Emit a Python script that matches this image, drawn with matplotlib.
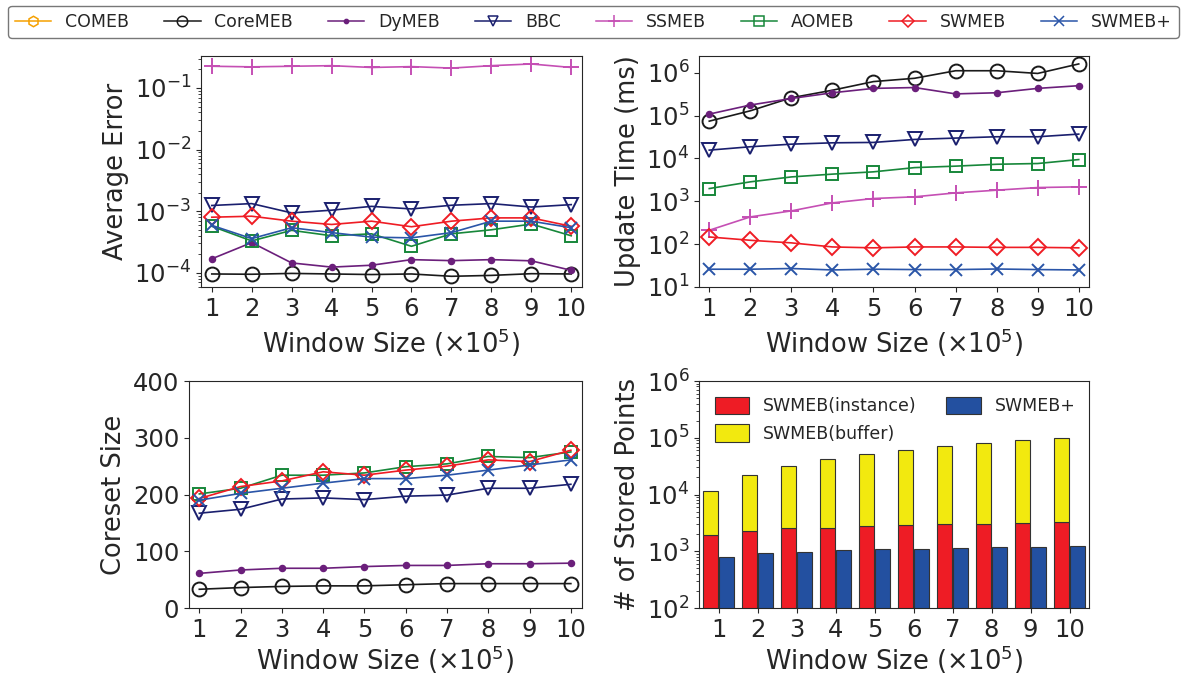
import numpy as np
import matplotlib
matplotlib.use('Agg')
import matplotlib.pyplot as plt
from matplotlib.ticker import NullLocator

#Window sizes (x10^5)
win = [1, 2, 3, 4, 5, 6, 7, 8, 9, 10]

#Average error
err_core = [9.6e-5, 9.5e-5, 9.8e-5, 9.6e-5, 9.4e-5, 9.6e-5, 8.8e-5, 9.1e-5, 9.7e-5, 9.6e-5]
err_dy = [1.69e-4, 3.1e-4, 1.45e-4, 1.24e-4, 1.33e-4, 1.64e-4, 1.58e-4, 1.64e-4, 1.57e-4, 1.1e-4]
err_bbc = [1.24e-3, 1.33e-3, 0.94e-3, 1.04e-3, 1.2e-3, 1.09e-3, 1.25e-3, 1.33e-3, 1.17e-3, 1.28e-3]
err_ss = [0.225, 0.22, 0.225, 0.23, 0.215, 0.222, 0.21, 0.23, 0.245, 0.215]
err_ao = [5.7e-4, 3.3e-4, 4.9e-4, 4.0e-4, 4.3e-4, 2.7e-4, 4.3e-4, 5.0e-4, 6.2e-4, 4.0e-4]
err_sw = [8.0e-4, 8.3e-4, 6.9e-4, 6.1e-4, 6.9e-4, 5.6e-4, 6.9e-4, 7.8e-4, 7.8e-4, 5.7e-4]
err_swp = [5.9e-4, 3.6e-4, 5.4e-4, 4.5e-4, 3.8e-4, 3.7e-4, 4.5e-4, 6.9e-4, 6.9e-4, 5.4e-4]

#Update time (ms)
t_core = [7.4e4, 1.29e5, 2.6e5, 3.9e5, 6.2e5, 7.4e5, 1.11e6, 1.11e6, 9.6e5, 1.6e6]
t_dy = [1.08e5, 1.76e5, 2.5e5, 3.4e5, 4.3e5, 4.5e5, 3.2e5, 3.4e5, 4.3e5, 4.97e5]
t_bbc = [1.56e4, 1.87e4, 2.15e4, 2.31e4, 2.36e4, 2.77e4, 2.98e4, 3.2e4, 3.2e4, 3.69e4]
t_ss = [211, 432, 597, 918, 1160, 1270, 1570, 1815, 2090, 2170]
t_ao = [1980, 2840, 3700, 4300, 4860, 6100, 6600, 7300, 7600, 9400]
t_sw = [147, 123, 107, 86, 82, 86, 86, 84, 84, 82]
t_swp = [26, 26, 27, 25, 26, 25.5, 25.5, 26.3, 25.5, 25]

#Coreset size
cs_core = [33, 36, 38, 39, 39, 41, 43, 43, 43, 43]
cs_dy = [61, 67, 70, 70, 73, 75, 75, 78, 78, 79]
cs_bbc = [167, 174, 192, 194, 191, 197, 199, 211, 211, 218]
cs_ao = [201, 211, 234, 234, 238, 249, 254, 267, 265, 275]
cs_sw = [193, 214, 224, 240, 234, 243, 250, 261, 258, 278]
cs_swp = [190, 202, 211, 220, 228, 228, 234, 243, 252, 261]

#Stored points
st_inst = [1950, 2300, 2520, 2560, 2740, 2930, 3050, 3010, 3130, 3220]
st_buf = [9800, 19600, 29400, 39200, 49300, 59100, 67900, 79200, 87300, 97500]
st_plus = [789, 929, 967, 1050, 1092, 1092, 1137, 1168, 1183, 1250]

names = ['COMEB', 'CoreMEB', 'DyMEB', 'BBC', 'SSMEB', 'AOMEB', 'SWMEB', 'SWMEB+']

plt.rcParams['font.family'] = 'DejaVu Sans'
plt.rcParams['text.color'] = '#262626'
plt.rcParams['axes.labelcolor'] = '#262626'
plt.rcParams['xtick.color'] = '#262626'
plt.rcParams['ytick.color'] = '#262626'
plt.rcParams['axes.edgecolor'] = '#262626'

#style per method: colour, marker, size, hollow
sty = {
  'COMEB': ('#f5a000', 'h', 10, True),
  'CoreMEB': ('#1a1a1a', 'o', 10, True),
  'DyMEB': ('#6b1f7b', 'o', 4, False),
  'BBC': ('#1a1f6e', 'v', 10, True),
  'SSMEB': ('#c54fb4', '+', 11, True),
  'AOMEB': ('#17873a', 's', 9, True),
  'SWMEB': ('#ef1c24', 'D', 8, True),
  'SWMEB+': ('#2a55a8', 'x', 9, True),
}

def draw(ax, name, y):
  c, m, s, hollow = sty[name]
  fc = 'none' if hollow else c
  return ax.plot(win, y, color=c, marker=m, markersize=s, markerfacecolor=fc,
                 markeredgecolor=c, markeredgewidth=1.4, linewidth=1.2, label=name)[0]

fig = plt.figure(figsize=(11.86, 6.76), dpi=100)
W, H = 1186., 676.
def box(l, t, r, b):
  return [l/W, 1-b/H, (r-l)/W, (b-t)/H]

ax1 = fig.add_axes(box(201, 56, 582, 287))
ax2 = fig.add_axes(box(699, 56, 1089, 287))
ax3 = fig.add_axes(box(189, 381, 582, 608))
ax4 = fig.add_axes(box(699, 381, 1089, 608))

fs = 17.5
lab = 18.5

#Average error
draw(ax1, 'CoreMEB', err_core)
draw(ax1, 'DyMEB', err_dy)
draw(ax1, 'BBC', err_bbc)
draw(ax1, 'SSMEB', err_ss)
draw(ax1, 'AOMEB', err_ao)
draw(ax1, 'SWMEB', err_sw)
draw(ax1, 'SWMEB+', err_swp)
ax1.set_yscale('log')
ax1.set_ylim(5.9e-5, 0.33)
ax1.set_xlim(0.73, 10.27)
ax1.set_ylabel('Average Error', fontsize=lab)

#Update time
draw(ax2, 'CoreMEB', t_core)
draw(ax2, 'DyMEB', t_dy)
draw(ax2, 'BBC', t_bbc)
draw(ax2, 'SSMEB', t_ss)
draw(ax2, 'AOMEB', t_ao)
draw(ax2, 'SWMEB', t_sw)
draw(ax2, 'SWMEB+', t_swp)
ax2.set_yscale('log')
ax2.set_yticks([1e1, 1e2, 1e3, 1e4, 1e5, 1e6])
ax2.set_ylim(10, 2.45e6)
ax2.yaxis.set_minor_locator(NullLocator())
ax2.set_xlim(0.75, 10.25)
ax2.set_ylabel('Update Time (ms)', fontsize=lab)

#Coreset size
draw(ax3, 'CoreMEB', cs_core)
draw(ax3, 'DyMEB', cs_dy)
draw(ax3, 'BBC', cs_bbc)
draw(ax3, 'AOMEB', cs_ao)
draw(ax3, 'SWMEB', cs_sw)
draw(ax3, 'SWMEB+', cs_swp)
ax3.set_ylim(0, 400)
ax3.set_yticks([0, 100, 200, 300, 400])
ax3.set_xlim(0.75, 10.27)
ax3.set_ylabel('Coreset Size', fontsize=lab)

#Stored points
x = np.array(win)
bw = 0.37
ax4.bar(x-0.2, st_inst, bw, color='#ee1c25', edgecolor='#333333', linewidth=0.8, label='SWMEB(instance)')
ax4.bar(x-0.2, st_buf, bw, bottom=st_inst, color='#f2e90f', edgecolor='#333333', linewidth=0.8, label='SWMEB(buffer)')
ax4.bar(x+0.2, st_plus, bw, color='#2350a0', edgecolor='#333333', linewidth=0.8, label='SWMEB+')
ax4.set_yscale('log')
ax4.set_yticks([1e2, 1e3, 1e4, 1e5, 1e6])
ax4.set_ylim(100, 1e6)
ax4.set_xlim(0.5, 10.5)
ax4.set_ylabel('# of Stored Points', fontsize=lab)
ax4.legend(loc='upper left', ncol=2, fontsize=12.5, frameon=False,
           handlelength=2.0, handleheight=1.2, columnspacing=1.7, bbox_to_anchor=(0.0, 1.0))

for ax in [ax1, ax2, ax3, ax4]:
  ax.set_xticks(win)
  ax.tick_params(labelsize=fs)
for ax in [ax1, ax2]:
  ax.set_xlabel('Window Size ($\\times10^5$)', fontsize=lab)
for ax in [ax3, ax4]:
  ax.set_xlabel('Window Size ($\\times10^5$)', fontsize=lab, labelpad=1.5)

#Shared legend on top
hs = []
for n in names:
  c, m, s, hollow = sty[n]
  fc = 'none' if hollow else c
  hs.append(plt.Line2D([], [], color=c, marker=m, markersize=s*0.75, markerfacecolor=fc,
                       markeredgecolor=c, markeredgewidth=1.1, linewidth=1.1, label=n))
fig.legend(handles=hs, loc='center', ncol=8, fontsize=12.5, bbox_to_anchor=(0.5004, 0.968),
           handlelength=2.1, handletextpad=0.8, columnspacing=2.0, edgecolor='#555555',
           fancybox=True, borderpad=0.4)

plt.savefig('out.png', dpi=100)
